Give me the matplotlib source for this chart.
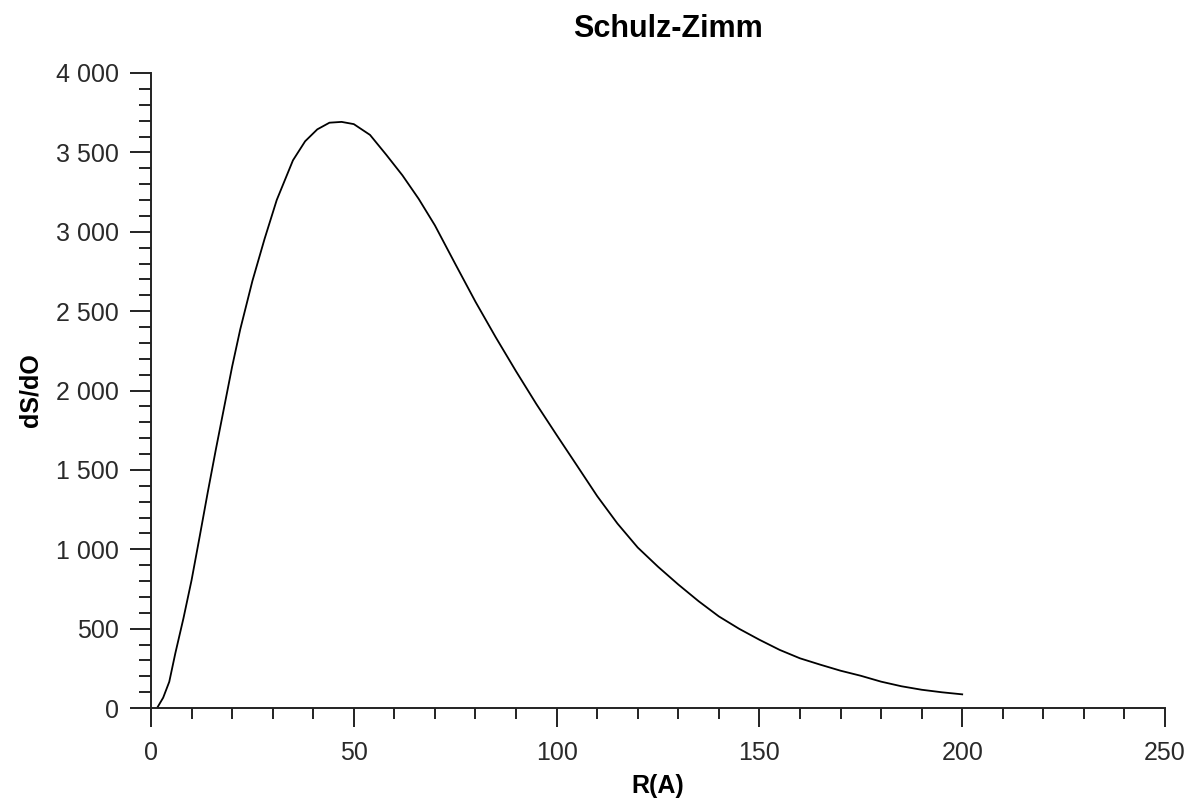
import matplotlib.pyplot as plt
from matplotlib.ticker import MultipleLocator, FuncFormatter

# Schulz-Zimm distribution, values
radius = [1.5, 3, 4.5, 6, 8, 10, 12, 14, 16, 18, 20, 22, 25, 28, 31, 35, 38,
          41, 44, 47, 50, 54, 58, 62, 66, 70, 75, 80, 85, 90, 95, 100, 105,
          110, 115, 120, 125, 130, 135, 140, 145, 150, 155, 160, 165, 170,
          175, 180, 185, 190, 195, 200]
dsdo = [0, 65, 165, 345, 565, 805, 1080, 1360, 1630, 1890, 2150, 2385, 2690,
        2955, 3200, 3450, 3570, 3645, 3687, 3692, 3678, 3610, 3485, 3355, 3207,
        3040, 2798, 2559, 2335, 2121, 1915, 1720, 1528, 1335, 1162, 1011, 890,
        778, 673, 577, 499, 430, 366, 313, 273, 235, 203, 166, 137, 115, 99, 86]

plt.rcParams['font.family'] = ['Liberation Sans', 'DejaVu Sans']

fig = plt.figure(figsize=(11.92, 7.98), dpi=100)
ax = fig.add_axes([151 / 1192, 90 / 798, 1014 / 1192, 635 / 798])

ax.plot(radius, dsdo, '-', color='black', lw=1.3)

ax.set_xlim(0, 250)
ax.set_ylim(0, 4000)
ax.xaxis.set_major_locator(MultipleLocator(50))
ax.xaxis.set_minor_locator(MultipleLocator(10))
ax.yaxis.set_major_locator(MultipleLocator(500))
ax.yaxis.set_minor_locator(MultipleLocator(100))
ax.yaxis.set_major_formatter(FuncFormatter(lambda v, p: f'{int(v):,}'.replace(',', ' ')))

for side in ['top', 'right']:
    ax.spines[side].set_visible(False)
for side in ['left', 'bottom']:
    ax.spines[side].set_linewidth(1.4)
    ax.spines[side].set_color('#222222')

ax.tick_params(axis='both', which='both', direction='out', width=1.4, colors='#222222',
               labelcolor='#2a2a2a', labelsize=18)
ax.tick_params(axis='x', which='major', length=13.5, pad=10)
ax.tick_params(axis='x', which='minor', length=8)
ax.tick_params(axis='y', which='major', length=15, pad=8)
ax.tick_params(axis='y', which='minor', length=8.5)

ax.set_xlabel('R(A)', fontsize=18, fontweight='bold', labelpad=7)
ax.set_ylabel('dS/dO', fontsize=18, fontweight='bold', labelpad=10)
ax.set_title('Schulz-Zimm', fontsize=22, fontweight='bold', pad=26, x=0.51)

fig.savefig('out.png', dpi=100)
